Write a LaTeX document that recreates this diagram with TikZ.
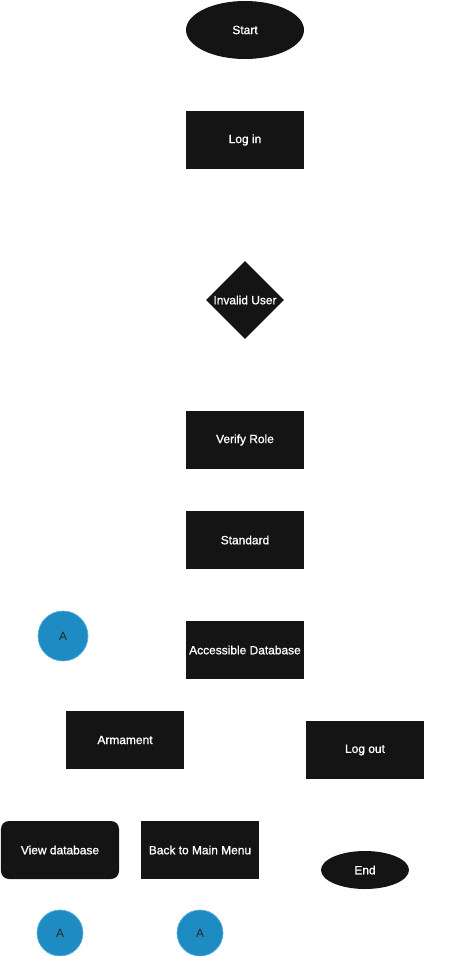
\documentclass[tikz,border=0pt]{standalone}
\usepackage{fontspec}
\setmainfont{Liberation Sans}[AutoFakeBold=1.0]
\usetikzlibrary{shapes.geometric}

\definecolor{boxfill}{HTML}{141414}
\definecolor{connfill}{HTML}{1E8BC3}
\definecolor{connline}{HTML}{5AAEDB}

\begin{document}
\begin{tikzpicture}[
    x=0.03cm, y=-0.03cm,
    base/.style={fill=boxfill, text=white, font=\fontsize{10.2}{12}\selectfont\bfseries, inner sep=0pt},
    terminal/.style={base, ellipse, minimum width=3.54cm, minimum height=1.74cm},
    process/.style={base, rectangle, minimum width=3.54cm, minimum height=1.74cm},
    decision/.style={base, diamond, minimum width=2.34cm, minimum height=2.34cm},
    connector/.style={circle, fill=connfill, draw=connline, line width=0.6pt, text=black!85,
        font=\fontsize{10.2}{12}\selectfont, inner sep=0pt, minimum size=1.5cm}
]
\useasboundingbox (0,0) rectangle (454,956);

% --- main column ---
\node[terminal] (start) at (245,30) {Start};
\node[process] (login) at (245,140) {Log in};
\node[decision, label={[text=white, font=\fontsize{10.2}{12}\selectfont\bfseries]center:Invalid User}] (invalid) at (245,300) {};
\node[process] (verify) at (245,440) {Verify Role};
\node[process] (standard) at (245,540) {Standard};
\node[process] (access) at (245,650) {Accessible Database};

% --- branches ---
\node[connector] (conA) at (63,636) {A};
\node[process] (armament) at (125,740) {Armament};
\node[process] (logout) at (365,750) {Log out};
\node[process, rounded corners=0.24cm] (viewdb) at (60,850) {View database};
\node[process] (backmenu) at (200,850) {Back to Main Menu};
\node[terminal, minimum width=2.64cm, minimum height=1.14cm] (finish) at (365,870) {End};

% off-page connectors
\node[connector, minimum size=1.38cm] (conB) at (60,933) {A};
\node[connector, minimum size=1.38cm] (conC) at (200,933) {A};

\end{tikzpicture}
\end{document}
